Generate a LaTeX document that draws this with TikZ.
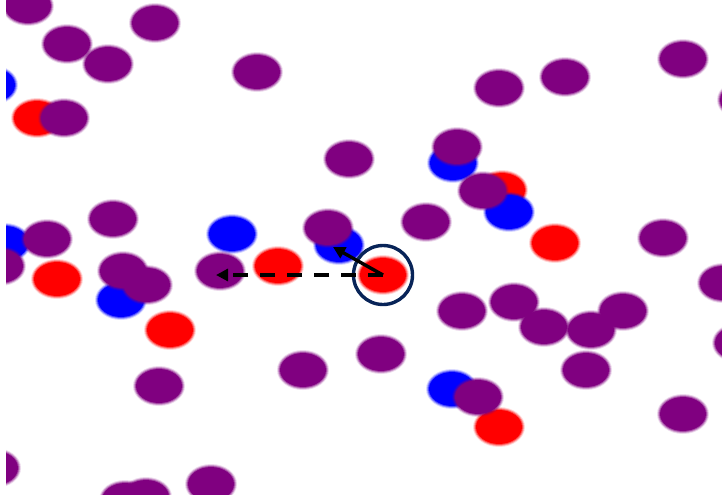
\documentclass[tikz,border=0pt]{standalone}
\usetikzlibrary{arrows.meta}
\definecolor{dotpurple}{RGB}{128,0,128}
\definecolor{dotred}{RGB}{255,0,0}
\definecolor{dotblue}{RGB}{0,0,255}
\definecolor{ringnavy}{RGB}{8,36,88}
% a soft-edged disc: faint halos under a solid core
\newcommand\softdisc[3]{%
  \fill[#1,fill opacity=0.15] (#2,#3) ellipse [x radius=26pt,y radius=20pt];
  \fill[#1,fill opacity=0.3] (#2,#3) ellipse [x radius=25pt,y radius=19pt];
  \fill[#1,fill opacity=0.5] (#2,#3) ellipse [x radius=24pt,y radius=18pt];
  \fill[#1] (#2,#3) ellipse [x radius=23pt,y radius=17pt];
}
\tikzset{
  moveline/.style={line width=3.4pt,black,-{Triangle[length=12pt,width=12pt]}},
  ring/.style={draw=ringnavy,line width=3.4pt}
}
\begin{document}
\begin{tikzpicture}[x=1pt,y=-1pt]
\fill[white] (0,0) rectangle (722,498);
\useasboundingbox (0,0) rectangle (722,498);
\begin{scope}
\clip (6,0) rectangle (722,494);
% upper band
\softdisc{dotblue}{-8}{85}
\softdisc{dotpurple}{28}{6}
\softdisc{dotpurple}{67}{44}
\softdisc{dotpurple}{108}{64}
\softdisc{dotpurple}{155}{23}
\softdisc{dotpurple}{257}{72}
\softdisc{dotred}{37}{118}
\softdisc{dotpurple}{64}{118}
\softdisc{dotpurple}{349}{159}
\softdisc{dotblue}{453}{163}
\softdisc{dotpurple}{457}{147}
\softdisc{dotred}{502}{190}
\softdisc{dotblue}{509}{212}
\softdisc{dotpurple}{483}{191}
\softdisc{dotpurple}{499}{88}
\softdisc{dotpurple}{565}{77}
\softdisc{dotpurple}{683}{59}
\softdisc{dotpurple}{743}{100}
% middle band
\softdisc{dotpurple}{113}{219}
\softdisc{dotblue}{232}{234}
\softdisc{dotblue}{5}{243}
\softdisc{dotpurple}{0}{266}
\softdisc{dotpurple}{47}{239}
\softdisc{dotblue}{339}{245}
\softdisc{dotpurple}{328}{228}
\softdisc{dotpurple}{426}{222}
\softdisc{dotred}{555}{243}
\softdisc{dotpurple}{663}{238}
\softdisc{dotpurple}{723}{283}
\softdisc{dotpurple}{738}{343}
\softdisc{dotred}{57}{279}
\softdisc{dotblue}{121}{300}
\softdisc{dotpurple}{123}{271}
\softdisc{dotpurple}{147}{285}
\softdisc{dotred}{170}{330}
\softdisc{dotpurple}{220}{271}
\softdisc{dotred}{278}{266}
\softdisc{dotred}{383}{275}
% lower band
\softdisc{dotpurple}{462}{311}
\softdisc{dotpurple}{514}{302}
\softdisc{dotpurple}{544}{327}
\softdisc{dotpurple}{591}{330}
\softdisc{dotpurple}{623}{311}
\softdisc{dotpurple}{586}{370}
\softdisc{dotpurple}{381}{354}
\softdisc{dotpurple}{303}{370}
\softdisc{dotpurple}{159}{386}
\softdisc{dotblue}{452}{389}
\softdisc{dotred}{499}{427}
\softdisc{dotpurple}{478}{397}
\softdisc{dotpurple}{683}{414}
\softdisc{dotpurple}{-5}{468}
\softdisc{dotpurple}{125}{500}
\softdisc{dotpurple}{146}{497}
\softdisc{dotpurple}{211}{484}
\end{scope}
% tagged particle and its moves
\coordinate (tagged) at (383,275);
\coordinate (hopend) at (216,275);
\coordinate (stepend) at (333,247);
\draw[ring] (tagged) circle [radius=29.5pt];
\draw[moveline,dash pattern=on 15pt off 12pt] (tagged) -- (hopend);
\draw[moveline] (tagged) -- (stepend);
\end{tikzpicture}
\end{document}
